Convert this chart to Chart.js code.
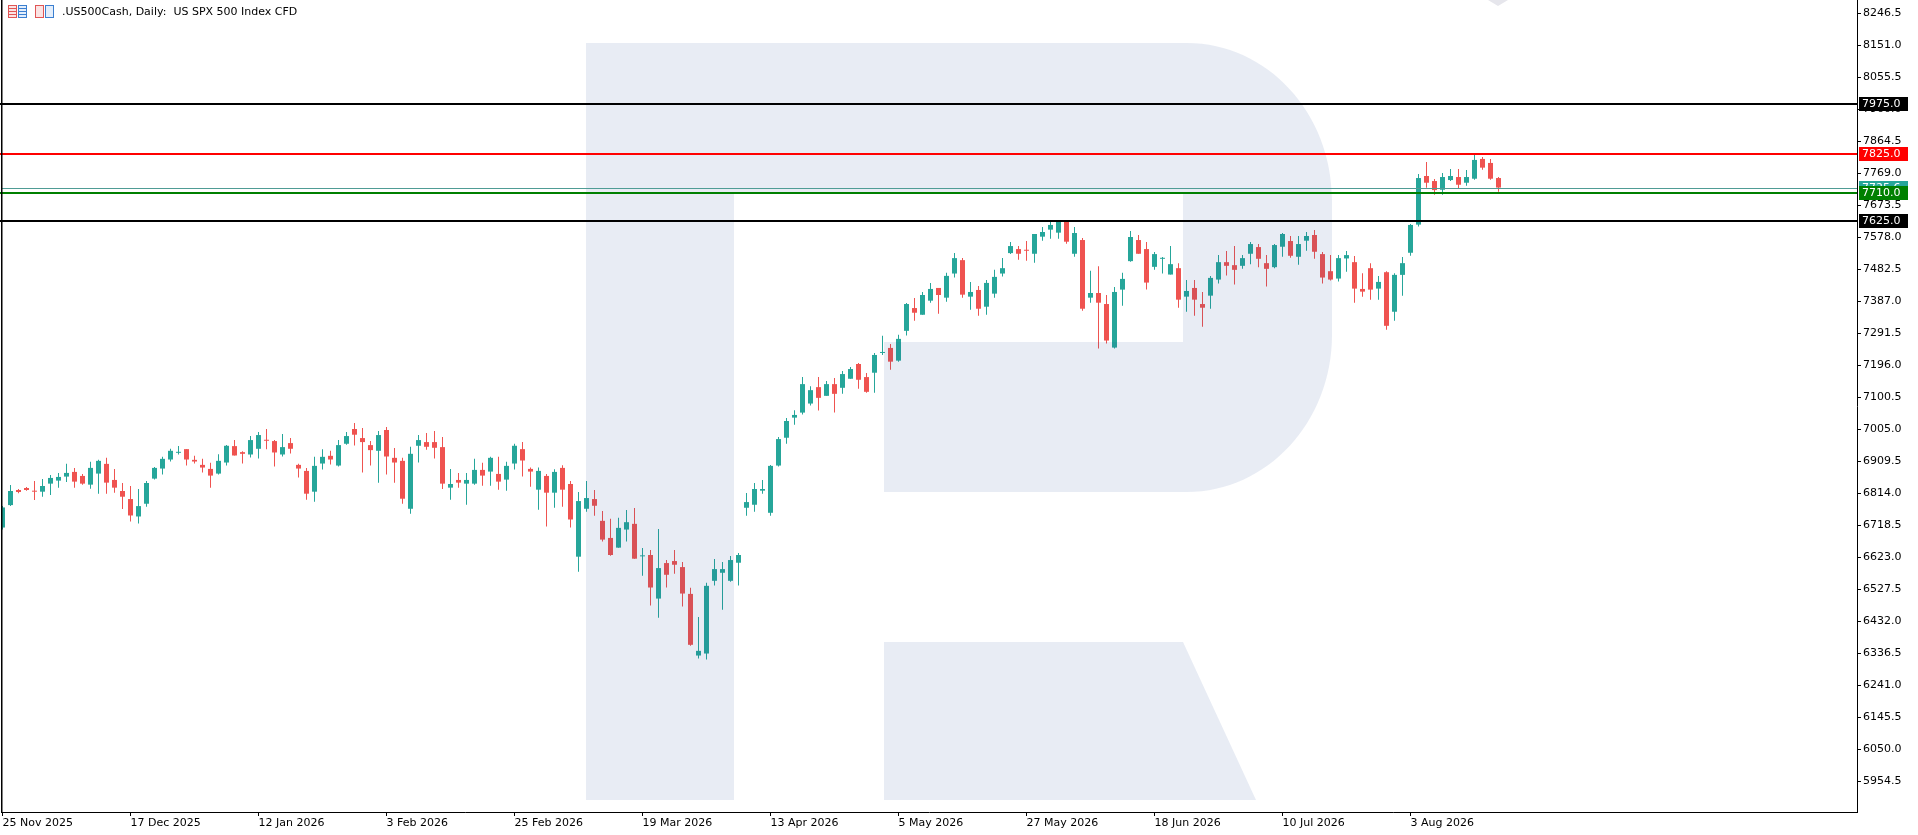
<!DOCTYPE html>
<html>
<head>
<meta charset="utf-8">
<title>.US500Cash Daily</title>
<script src="https://cdn.jsdelivr.net/npm/chart.js@4.4.1/dist/chart.umd.min.js"></script>
<style>
  html, body { margin: 0; padding: 0; background: #fff; }
  #wrap { position: relative; width: 1918px; height: 835px; overflow: hidden; }
  #chart { position: absolute; left: 0; top: 0; }
  #title { position: absolute; left: 62px; top: 5px; font: 11px "DejaVu Sans", sans-serif; color: #000; white-space: pre; }
  .ic { position: absolute; top: 5px; height: 13px; width: 9px; box-sizing: border-box; }
  .ic.r { border: 1px solid #e05555; background: repeating-linear-gradient(#fbe3e3 0 2px, #e05555 2px 3px); }
  .ic.b { border: 1px solid #3b7fd0; background: repeating-linear-gradient(#e3eefb 0 2px, #3b7fd0 2px 3px); }
  .ic.rp { border: 1px solid #e05555; background: #fbe3e3; }
  .ic.bp { border: 1px solid #3b7fd0; background: #e3eefb; }
</style>
</head>
<body>
<div id="wrap">
  <canvas id="chart" width="1918" height="835"></canvas>
  <div class="ic r" style="left:8px"></div>
  <div class="ic b" style="left:18px"></div>
  <div class="ic rp" style="left:35px"></div>
  <div class="ic bp" style="left:45px"></div>
  <div id="title">.US500Cash, Daily:  US SPX 500 Index CFD</div>
</div>
<script>
// daily candles, 25 Nov 2025 .. mid Aug 2026
const open = [
  6711,6778,6823,6829,6820,6818,6842,6851,6863,6877,
  6865,6839,6872,6901,6853,6820,6796,6744,6782,6857,
  6887,6914,6934,6945,6913,6898,6886,6872,6905,6954,
  6936,6929,6946,6972,6969,6929,6963,6898,6880,6818,
  6902,6925,6896,6961,7005,6978,6957,6940,7002,6919,
  6910,6767,6955,6966,6966,6951,6830,6853,6842,6842,
  6883,6878,6871,6854,6902,6945,6886,6824,6865,6815,
  6889,6841,6624,6767,6796,6731,6680,6651,6705,6722,
  6625,6629,6499,6605,6611,6593,6513,6329,6335,6552,
  6576,6552,6606,6770,6779,6821,6755,6896,6979,7039,
  7054,7081,7130,7104,7139,7128,7155,7199,7160,7173,
  7232,7247,7209,7298,7366,7346,7388,7426,7397,7469,
  7509,7400,7420,7370,7409,7469,7530,7542,7539,7528,
  7579,7600,7591,7623,7528,7569,7397,7411,7378,7248,
  7421,7506,7569,7542,7489,7513,7466,7485,7400,7426,
  7378,7403,7451,7503,7494,7492,7528,7548,7500,7488,
  7549,7566,7519,7567,7584,7527,7476,7454,7514,7503,
  7423,7485,7424,7473,7355,7465,7531,7615,7760,7745,
  7719,7748,7757,7740,7752,7811,7799,7754
];
const high = [
  6775,6838,6826,6832,6850,6856,6868,6874,6901,6889,
  6871,6907,6913,6919,6886,6844,6835,6826,6850,6892,
  6922,6946,6954,6945,6925,6916,6904,6930,6957,6972,
  6939,6984,6996,7005,6972,6990,6978,6901,6889,6922,
  6945,6940,6972,6996,7023,7008,6969,6999,7011,6948,
  6919,6952,6987,6993,6999,6981,6886,6874,6874,6916,
  6904,6922,6922,6907,6961,6966,6890,6890,6871,6885,
  6897,6850,6817,6850,6823,6760,6737,6740,6763,6769,
  6650,6644,6707,6614,6644,6608,6531,6444,6546,6617,
  6608,6626,6635,6814,6844,6853,6898,6981,7038,7061,
  7160,7133,7160,7148,7157,7178,7190,7202,7172,7232,
  7283,7259,7286,7381,7396,7414,7441,7426,7471,7530,
  7515,7444,7432,7450,7480,7515,7563,7551,7566,7587,
  7608,7629,7629,7629,7608,7575,7477,7491,7405,7429,
  7471,7596,7584,7563,7533,7518,7551,7500,7450,7450,
  7414,7462,7524,7536,7551,7524,7563,7557,7524,7557,
  7590,7581,7581,7593,7599,7533,7524,7524,7536,7521,
  7470,7500,7462,7476,7470,7518,7617,7766,7802,7751,
  7769,7781,7781,7778,7823,7817,7811,7757
];
const low = [
  6705,6775,6813,6821,6793,6803,6808,6830,6847,6830,
  6839,6827,6812,6812,6815,6766,6729,6723,6773,6854,
  6869,6908,6929,6896,6902,6875,6830,6869,6896,6926,
  6902,6920,6917,6945,6893,6923,6932,6860,6794,6788,
  6884,6899,6893,6958,6956,6875,6896,6845,6869,6845,
  6782,6752,6905,6943,6917,6826,6794,6830,6779,6839,
  6836,6836,6824,6821,6884,6863,6833,6764,6714,6770,
  6773,6711,6579,6758,6746,6669,6627,6651,6669,6618,
  6567,6478,6442,6532,6573,6475,6358,6320,6317,6538,
  6466,6549,6538,6746,6758,6812,6746,6893,6961,7018,
  7048,7075,7060,7104,7054,7110,7155,7125,7113,7113,
  7226,7182,7206,7284,7328,7346,7382,7349,7385,7457,
  7397,7361,7343,7346,7397,7460,7527,7510,7507,7501,
  7567,7573,7573,7558,7519,7358,7382,7245,7260,7245,
  7373,7504,7528,7421,7480,7469,7466,7367,7355,7343,
  7310,7364,7439,7463,7436,7483,7497,7488,7430,7485,
  7519,7516,7495,7537,7513,7439,7448,7445,7474,7382,
  7400,7391,7391,7301,7328,7403,7522,7609,7725,7704,
  7704,7745,7722,7731,7749,7779,7749,7713
];
const close = [
  6771,6820,6817,6823,6818,6835,6859,6862,6874,6848,
  6842,6889,6910,6845,6830,6803,6747,6775,6844,6889,
  6916,6940,6936,6914,6908,6890,6866,6910,6955,6926,
  6931,6972,6987,6970,6935,6951,6946,6887,6812,6895,
  6922,6914,6957,6984,6988,6966,6942,6987,6923,6905,
  6797,6931,6972,6952,6949,6842,6841,6845,6853,6883,
  6866,6919,6848,6895,6955,6911,6878,6880,6815,6877,
  6824,6735,6790,6799,6776,6675,6629,6710,6727,6618,
  6627,6532,6590,6570,6600,6514,6361,6343,6537,6587,
  6587,6614,6629,6787,6826,6826,6895,6975,7029,7047,
  7139,7121,7098,7139,7110,7169,7184,7152,7116,7226,
  7235,7206,7274,7378,7352,7405,7423,7405,7462,7515,
  7406,7414,7364,7441,7459,7485,7551,7528,7537,7587,
  7593,7614,7623,7564,7590,7364,7411,7382,7269,7414,
  7453,7578,7528,7442,7527,7515,7497,7391,7417,7391,
  7367,7456,7503,7492,7480,7515,7557,7513,7483,7554,
  7587,7522,7557,7581,7534,7457,7451,7515,7524,7424,
  7415,7421,7444,7313,7465,7500,7614,7754,7740,7718,
  7757,7760,7734,7757,7808,7785,7752,7725.6
];

// time axis: a label every 16 bars
const xLabels = ['25 Nov 2025','17 Dec 2025','12 Jan 2026','3 Feb 2026','25 Feb 2026','19 Mar 2026',
                 '13 Apr 2026','5 May 2026','27 May 2026','18 Jun 2026','10 Jul 2026','3 Aug 2026'];
const xTickIdx = [0,16,32,48,64,80,96,112,128,144,160,176];

// price axis labels
const yTicks = [5954.5,6050.0,6145.5,6241.0,6336.5,6432.0,6527.5,6623.0,6718.5,6814.0,6909.5,7005.0,
                7100.5,7196.0,7291.5,7387.0,7482.5,7578.0,7673.5,7769.0,7864.5,7960.0,8055.5,8151.0,8246.5];

// horizontal levels
const levels = [7975, 7825, 7710, 7625];
const levelColors = ['#000000', '#ff0000', '#008000', '#000000'];

const UP = '#26a69a', DOWN = '#ef5350';
const idx = open.map((_, i) => i);
const colors = idx.map(i => close[i] >= open[i] ? UP : DOWN);
const bid = close[close.length - 1];

Chart.defaults.font.family = 'DejaVu Sans';
Chart.defaults.font.size = 11;
Chart.defaults.color = '#000';

const overlay = {
  id: 'overlay',
  afterDatasetsDraw(chart) {
    const ctx = chart.ctx, a = chart.chartArea, ys = chart.scales.y;
    ctx.save();
    // logo watermark over the candles
    ctx.fillStyle = 'rgba(28,72,150,0.1)';
    ctx.beginPath();
    ctx.moveTo(586, 43);
    ctx.lineTo(1187, 43);
    ctx.bezierCurveTo(1267, 43, 1332, 113, 1332, 200);
    ctx.lineTo(1332, 335);
    ctx.bezierCurveTo(1332, 422, 1267, 492, 1187, 492);
    ctx.lineTo(884, 492);
    ctx.lineTo(884, 342);
    ctx.lineTo(1183, 342);
    ctx.lineTo(1183, 192);
    ctx.lineTo(734, 192);
    ctx.lineTo(734, 800);
    ctx.lineTo(586, 800);
    ctx.closePath();
    ctx.moveTo(884, 642);
    ctx.lineTo(1183, 642);
    ctx.lineTo(1256, 800);
    ctx.lineTo(884, 800);
    ctx.closePath();
    ctx.fill();
    ctx.fillStyle = '#e6e6ec';
    ctx.beginPath();
    ctx.moveTo(1488, 0); ctx.lineTo(1508, 0); ctx.lineTo(1498, 6); ctx.closePath();
    ctx.fill();

    // bid line
    const by = Math.round(ys.getPixelForValue(bid));
    ctx.fillStyle = '#4f9c95';
    ctx.fillRect(a.left, by, a.right - a.left, 1);

    // level lines
    levels.forEach((v, k) => {
      const py = Math.round(ys.getPixelForValue(v));
      ctx.fillStyle = levelColors[k];
      ctx.fillRect(0, py - 1, a.right, 2);
    });

    // left frame
    ctx.fillStyle = '#000';
    ctx.fillRect(1, 0, 1.5, a.bottom);
    ctx.restore();
  },
  afterDraw(chart) {
    const ctx = chart.ctx, a = chart.chartArea, ys = chart.scales.y;
    ctx.save();
    ctx.font = '11px "DejaVu Sans"';
    ctx.textBaseline = 'middle';
    ctx.textAlign = 'left';
    const tag = (v, col, txt) => {
      const py = Math.round(ys.getPixelForValue(v));
      ctx.fillStyle = col;
      ctx.fillRect(a.right + 2, py - 7, 49, 14);
      ctx.fillStyle = '#fff';
      ctx.fillText(txt, a.right + 5, py + 0.5);
    };
    tag(bid, UP, bid.toFixed(1));
    tag(levels[2], levelColors[2], levels[2].toFixed(1));
    tag(levels[1], levelColors[1], levels[1].toFixed(1));
    tag(levels[0], levelColors[0], levels[0].toFixed(1));
    tag(levels[3], levelColors[3], levels[3].toFixed(1));
    ctx.restore();
  }
};

new Chart(document.getElementById('chart').getContext('2d'), {
  type: 'bar',
  data: {
    datasets: [{
      label: 'wick',
      data: idx.map(i => ({ x: i, y: [low[i], high[i]] })),
      backgroundColor: colors,
      barThickness: 1,
      grouped: false,
      inflateAmount: 0,
      borderWidth: 0
    }, {
      label: 'body',
      data: idx.map(i => ({ x: i, y: [open[i], close[i]] })),
      backgroundColor: colors,
      barThickness: 5,
      minBarLength: 1,
      grouped: false,
      inflateAmount: 0,
      borderWidth: 0
    }]
  },
  options: {
    responsive: false,
    animation: false,
    devicePixelRatio: 1,
    layout: { padding: { left: 1, top: 0, right: 0, bottom: 0 } },
    plugins: { legend: { display: false }, tooltip: { enabled: false } },
    scales: {
      x: {
        type: 'linear',
        position: 'bottom',
        offset: false,
        min: -0.1875,
        max: 231.8125,
        grid: { offset: false, drawOnChartArea: false, drawTicks: true, tickLength: 4, color: '#000' },
        border: { display: true, color: '#000', width: 1 },
        ticks: {
          autoSkip: false, maxRotation: 0, align: 'start', padding: 1,
          callback: (v) => xLabels[xTickIdx.indexOf(v)] || ''
        },
        afterBuildTicks: (s) => { s.ticks = xTickIdx.map(v => ({ value: v })); },
        afterFit: (s) => { s.height = 23; s.paddingLeft = 0; s.paddingRight = 0; }
      },
      y: {
        type: 'linear',
        position: 'right',
        beginAtZero: false,
        min: 5862.1,
        max: 8285.3,
        grid: { drawOnChartArea: false, drawTicks: true, tickLength: 4, color: '#000' },
        border: { display: true, color: '#000', width: 1 },
        ticks: {
          padding: 2, crossAlign: 'near',
          callback: (v) => Number(v).toFixed(1)
        },
        afterBuildTicks: (s) => { s.ticks = yTicks.map(v => ({ value: v })); },
        afterFit: (s) => { s.width = 61; s.paddingTop = 0; s.paddingBottom = 0; }
      }
    }
  },
  plugins: [overlay]
});
</script>
</body>
</html>
